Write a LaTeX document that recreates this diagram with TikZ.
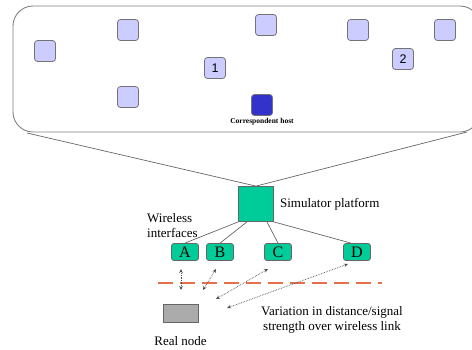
\documentclass[tikz,border=0pt]{standalone}
\usepackage{fontspec}
\setmainfont{Liberation Serif}
\newfontfamily\arialfont{Liberation Sans}
\usetikzlibrary{positioning,arrows.meta}
\usepackage{xcolor}
\definecolor{lavender}{HTML}{CCCCFF}
\definecolor{hostblue}{HTML}{3333CC}
\definecolor{simgreen}{HTML}{00CC99}
\definecolor{dashorange}{HTML}{E4714C}
\tikzset{
    x=1pt,
    y=-1pt,
    mobile/.style={draw=black!55,line width=0.8pt,fill=lavender,rounded corners=3pt,
        minimum size=21pt,inner sep=0pt,font=\arialfont\fontsize{12.5}{14}\selectfont},
    iface/.style={draw=black!60,line width=0.8pt,fill=simgreen,rounded corners=2.5pt,
        minimum width=27pt,minimum height=17pt,inner sep=0pt,font=\fontsize{16}{18}\selectfont},
    label text/.style={font=\fontsize{13}{15}\selectfont,inner sep=0pt},
    wire/.style={draw=black!60,line width=0.7pt},
    radio/.style={black!70,densely dotted,line width=0.7pt,{Stealth[length=4pt,width=3.5pt]}-{Stealth[length=4pt,width=3.5pt]}},
}
\newcommand{\mobile}[4] {
    \node[mobile] (#1) at (#2,#3) {#4};
}

\begin{document}
\begin{tikzpicture}
        \clip (0,0) rectangle (472,349);
        % simulated area
        \draw[black!50,line width=0.9pt,rounded corners=20pt] (13,6) rectangle (480,132);
        \mobile{m1}{45}{51}{};
        \mobile{m2}{128}{30}{};
        \mobile{m3}{266}{25}{};
        \mobile{m4}{358}{30}{};
        \mobile{m5}{445}{30}{};
        \mobile{m6}{128}{97}{};
        \mobile{one}{215}{68}{1};
        \mobile{two}{403}{59}{2};
        \node[mobile,fill=hostblue] (host) at (262,105) {};
        \node[below=2pt of host,inner sep=0pt,font=\fontsize{7.5}{9}\selectfont\bfseries] (hostlabel) {Correspondent host};
        % simulator
        \node[draw=black!60,line width=0.8pt,fill=simgreen,minimum size=35pt,inner sep=0pt] (sim) at (256,204) {};
        \coordinate (fl) at (27,133);
        \coordinate (fr) at (467,132);
        \draw[wire] (fl) -- (sim.north) -- (fr);
        \node[label text,right=6pt of sim] (simlabel) {Simulator platform};
        \node[label text,align=left,anchor=west] (wlabel) at (147,226) {Wireless\\interfaces};
        \foreach \n/\x in {A/185,B/220,C/278,D/357}
            \node[iface] (\n) at (\x,252) {\n};
        \draw[wire] (sim.south west) -- (A.north);
        \draw[wire] ([xshift=-9pt]sim.south) -- (B.north);
        \draw[wire] ([xshift=11pt]sim.south) -- (C.north);
        \draw[wire] (sim.south east) -- ([xshift=-6pt]D.north);
        % boundary
        \coordinate (bl) at (158,283);
        \coordinate (br) at (382,283);
        \draw[dashorange,line width=2pt,dash pattern=on 15pt off 7pt] (bl) -- (br);
        % real node
        \node[draw=black!60,line width=0.8pt,fill=black!33,minimum width=35pt,minimum height=18pt,inner sep=0pt] (real) at (180.5,313) {};
        \node[label text,below=14pt of real] (reallabel) {Real node};
        \coordinate (a1) at (181,269);
        \coordinate (a2) at (181,290);
        \coordinate (b1) at (216,269);
        \coordinate (b2) at (203,290);
        \coordinate (c1) at (268,269);
        \coordinate (c2) at (216,299);
        \coordinate (d1) at (348,264);
        \coordinate (d2) at (227,308);
        \draw[radio] (a1) -- (a2);
        \draw[radio] (b1) -- (b2);
        \draw[radio] (c1) -- (c2);
        \draw[radio] (d1) -- (d2);
        \node[label text,align=center] (varlabel) at (332,320) {Variation in distance/signal\\strength over wireless link};
    \end{tikzpicture}
\end{document}
